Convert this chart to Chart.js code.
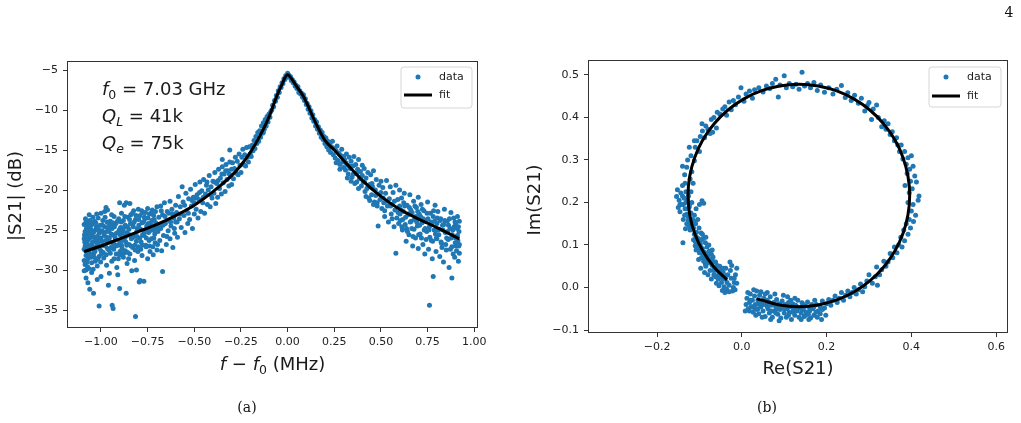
<!DOCTYPE html>
<html>
<head>
<meta charset="utf-8">
<script src="https://cdn.jsdelivr.net/npm/chart.js@4.4.1/dist/chart.umd.min.js"></script>
<style>
  body { margin: 0; background: #fff; width: 1021px; height: 423px; overflow: hidden; position: relative; }
  canvas { position: absolute; top: 0; }
  .cap { position: absolute; font-family: "DejaVu Serif", serif; font-size: 14px; color: #111; transform: translateX(-50%); }
</style>
</head>
<body>
<canvas id="chartA" width="500" height="423" style="left:0"></canvas>
<canvas id="chartB" width="511" height="423" style="left:510px"></canvas>
<div class="cap" style="left:247px; top:399px">(a)</div>
<div class="cap" style="left:767px; top:399px">(b)</div>
<div class="cap" style="left:1009px; top:4px">4</div>
<script>
// panel (a): |S21| vs detuning, MHz / dB
const aTicksX = [-1.0, -0.75, -0.5, -0.25, 0, 0.25, 0.5, 0.75, 1.0];
const aTicksY = [-35, -30, -25, -20, -15, -10, -5];

const aFitX = [-1.09,-1.0,-0.9,-0.8,-0.7,-0.6,-0.5,-0.4,-0.3,-0.25,-0.2,-0.15,-0.1,-0.07,-0.05,-0.03,-0.015,0,
  0.015,0.03,0.05,0.085,0.1,0.15,0.2,0.25,0.3,0.4,0.5,0.6,0.7,0.8,0.92];
const aFitY = [-27.7,-27.0,-26.1,-25.2,-24.3,-23.2,-21.9,-20.2,-18.2,-16.9,-15.3,-13.3,-10.9,-9.0,-7.8,-6.8,-6.0,-5.6,
  -5.9,-6.4,-7.1,-8.3,-9.0,-11.6,-13.8,-15.0,-16.3,-18.8,-20.8,-22.4,-23.6,-24.7,-26.1];

const aData = [
  [-1.09,-24.3],[-1.09,-26.1],[-1.09,-27.4],[-1.09,-28.8],[-1.09,-30.1],[-1.085,-25.2],[-1.085,-27.0],[-1.085,-29.3],[-1.085,-25.8],
  [-1.08,-24.0],[-1.08,-26.6],[-1.08,-28.2],[-1.08,-30.0],[-1.08,-31.0],[-1.075,-25.5],[-1.075,-27.8],[-1.075,-29.0],
  [-1.07,-24.6],[-1.07,-26.3],[-1.07,-28.6],[-1.07,-31.6],[-1.065,-25.0],[-1.065,-27.2],[-1.065,-29.8],
  [-1.06,-23.8],[-1.06,-26.0],[-1.06,-27.9],[-1.06,-32.4],[-1.055,-24.9],[-1.055,-28.4],[-1.05,-25.7],[-1.05,-27.0],[-1.05,-29.1],[-1.05,-30.3],
  [-1.045,-24.2],[-1.045,-26.5],[-1.04,-25.3],[-1.04,-28.0],[-1.04,-32.9],[-1.035,-23.9],[-1.035,-27.5],[-1.03,-26.2],[-1.03,-28.9],[-1.03,-25.0],
  [-1.025,-24.6],[-1.025,-27.1],[-1.02,-25.8],[-1.02,-29.5],[-1.02,-31.2],[-1.015,-23.5],[-1.015,-26.8],[-1.01,-25.4],[-1.01,-28.3],[-1.01,-34.5],
  [-1.005,-24.4],[-1.0,-26.0],[-1.0,-27.6],[-1.0,-30.8],[-1.0,-22.9],
  [-0.995,-25.1],[-0.99,-23.8],[-0.99,-26.9],[-0.985,-28.5],[-0.98,-24.6],[-0.98,-22.7],[-0.975,-26.3],[-0.97,-25.2],[-0.97,-29.4],[-0.965,-22.5],
  [-0.965,-27.3],[-0.96,-31.9],[-0.96,-24.1],[-0.955,-26.0],[-0.955,-30.4],[-0.95,-23.9],[-0.95,-27.9],[-0.945,-25.5],[-0.94,-34.4],[-0.94,-24.8],
  [-0.935,-26.7],[-0.935,-34.8],[-0.93,-23.3],[-0.93,-28.6],[-0.925,-25.9],[-0.92,-24.2],[-0.92,-27.0],[-0.915,-29.7],[-0.91,-25.3],[-0.91,-30.6],
  [-0.905,-23.6],[-0.9,-26.4],[-0.9,-21.6],[-0.9,-32.3],[-0.9,-28.1],
  [-0.895,-24.7],[-0.89,-22.9],[-0.89,-26.9],[-0.885,-25.4],[-0.88,-28.4],[-0.88,-23.8],[-0.875,-21.9],[-0.875,-26.1],[-0.87,-24.4],[-0.87,-27.6],
  [-0.865,-32.9],[-0.865,-21.6],[-0.86,-25.3],[-0.86,-29.2],[-0.855,-23.4],[-0.85,-26.8],[-0.85,-24.9],[-0.845,-21.7],[-0.845,-28.0],[-0.84,-23.1],
  [-0.84,-25.8],[-0.835,-30.1],[-0.83,-24.3],[-0.83,-27.2],[-0.825,-22.6],[-0.82,-25.6],[-0.82,-28.8],[-0.815,-35.8],[-0.815,-23.7],[-0.81,-26.4],
  [-0.81,-30.0],[-0.805,-24.8],[-0.8,-22.4],[-0.8,-27.1],
  [-0.795,-31.5],[-0.795,-25.0],[-0.79,-23.2],[-0.79,-31.3],[-0.785,-26.5],[-0.78,-24.1],[-0.78,-28.2],[-0.775,-22.8],[-0.77,-25.7],[-0.77,-31.4],
  [-0.765,-23.6],[-0.76,-26.9],[-0.755,-24.5],[-0.75,-22.3],[-0.75,-28.6],[-0.745,-25.3],[-0.74,-23.0],[-0.74,-27.0],[-0.735,-24.2],[-0.73,-26.1],
  [-0.725,-22.5],[-0.72,-25.0],[-0.72,-28.1],[-0.715,-23.7],[-0.71,-26.6],[-0.705,-24.6],[-0.7,-22.1],[-0.7,-27.5],
  [-0.695,-25.2],[-0.69,-23.4],[-0.685,-26.3],[-0.68,-22.0],[-0.68,-24.8],[-0.675,-27.6],[-0.67,-30.2],[-0.67,-23.1],[-0.665,-25.7],[-0.66,-21.6],
  [-0.655,-24.2],[-0.65,-26.8],[-0.645,-22.7],[-0.64,-25.1],[-0.635,-23.8],[-0.63,-21.4],[-0.63,-26.1],[-0.625,-24.5],[-0.62,-22.4],[-0.615,-27.2],
  [-0.61,-23.5],[-0.605,-25.4],[-0.6,-21.9],[-0.6,-24.0],
  [-1.088,-25.6],[-1.082,-27.6],[-1.078,-24.8],[-1.072,-29.6],[-1.068,-26.9],[-1.062,-25.4],[-1.058,-28.1],[-1.052,-24.4],[-1.048,-26.8],
  [-1.042,-29.9],[-1.038,-25.9],[-1.032,-27.7],[-1.028,-24.1],[-1.022,-26.6],[-1.018,-28.6],[-1.012,-25.0],[-1.008,-27.3],[-1.002,-29.0],
  [-0.996,-26.4],[-0.992,-24.4],[-0.988,-27.8],[-0.982,-25.7],[-0.978,-23.4],[-0.972,-28.1],[-0.968,-25.9],[-0.962,-24.7],[-0.958,-27.5],
  [-0.952,-26.5],[-0.948,-24.3],[-0.942,-28.9],[-0.938,-25.6],[-0.932,-27.4],[-0.928,-24.6],[-0.922,-26.2],[-0.918,-28.0],[-0.912,-23.9],
  [-0.908,-26.9],[-0.902,-25.0],[-0.898,-27.7],[-0.892,-24.0],[-0.888,-26.3],[-0.882,-25.1],[-0.878,-27.9],[-0.872,-23.3],[-0.868,-25.8],
  [-0.862,-26.9],[-0.858,-24.6],[-0.852,-28.6],[-0.848,-25.6],[-0.842,-24.2],[-0.838,-27.0],[-0.832,-22.9],[-0.828,-25.9],[-0.822,-24.0],
  [-0.818,-26.9],[-0.812,-23.2],[-0.808,-25.2],[-0.802,-27.7],[-0.798,-23.7],[-0.792,-26.0],[-0.788,-24.9],[-0.782,-22.6],[-0.778,-26.9],
  [-0.772,-24.0],[-0.768,-25.3],[-0.762,-22.8],[-0.758,-27.1],[-0.752,-24.9],[-0.748,-23.5],[-0.742,-26.3],[-0.738,-25.1],[-0.732,-22.9],
  [-0.728,-24.6],[-0.722,-27.1],[-0.718,-23.2],[-0.712,-25.5],[-0.708,-22.7],[-0.702,-24.9],
  [-1.087,-26.5],[-1.077,-26.0],[-1.067,-24.3],[-1.057,-27.0],[-1.047,-25.3],[-1.037,-28.4],[-1.027,-26.0],[-1.017,-24.7],[-1.007,-26.3],
  [-0.997,-28.0],[-0.987,-25.3],[-0.977,-27.0],[-0.967,-24.0],[-0.957,-25.2],[-0.947,-27.2],[-0.937,-24.1],[-0.927,-26.8],[-0.917,-25.4],
  [-0.907,-28.6],[-0.897,-25.6],[-0.887,-27.3],[-0.877,-24.7],[-0.867,-26.5],[-0.857,-27.8],[-0.847,-23.7],[-0.837,-26.1],[-0.827,-24.6],
  [-0.817,-27.5],[-0.807,-25.8],[-0.797,-24.4],[-0.787,-27.4],[-0.777,-25.6],[-0.767,-23.4],[-0.757,-26.0],[-0.747,-24.2],[-0.737,-27.7],
  [-0.727,-23.8],[-0.717,-26.0],[-0.707,-24.1],[-0.697,-26.8],[-0.687,-24.5],[-0.677,-22.6],[-0.667,-24.4],[-0.657,-23.3],[-0.647,-25.8],
  [-0.637,-22.9],[-0.627,-24.0],[-0.617,-23.0],[-0.607,-24.8],[-1.083,-23.6],[-1.063,-23.1],[-1.043,-23.4],[-1.023,-23.0],[-0.973,-22.2],
  [-0.943,-23.1],
  [-0.595,-22.8],[-0.59,-25.9],[-0.585,-20.8],[-0.58,-23.6],[-0.575,-22.1],[-0.57,-24.7],[-0.565,-19.6],[-0.56,-21.5],[-0.555,-23.2],[-0.55,-25.3],
  [-0.545,-20.4],[-0.54,-22.6],[-0.535,-24.2],[-0.53,-21.1],[-0.525,-23.7],[-0.52,-19.9],[-0.515,-22.0],[-0.51,-24.8],[-0.505,-20.9],[-0.5,-23.0],[-0.5,-21.6],
  [-0.592,-24.0],[-0.572,-23.0],[-0.552,-21.9],[-0.532,-22.9],[-0.512,-21.3],[-0.492,-21.0],[-0.472,-20.3],[-0.452,-20.9],[-0.432,-19.0],
  [-0.412,-20.6],[-0.392,-19.0],[-0.372,-18.8],[-0.352,-18.0],[-0.332,-17.6],[-0.312,-18.0],
  [-0.495,-19.3],[-0.49,-22.4],[-0.485,-20.6],[-0.48,-23.5],[-0.475,-21.2],[-0.47,-19.0],[-0.465,-22.7],[-0.46,-20.1],[-0.455,-21.6],[-0.45,-18.7],
  [-0.445,-22.9],[-0.44,-20.5],[-0.435,-19.4],[-0.43,-21.8],[-0.425,-20.0],[-0.42,-18.2],[-0.415,-22.1],[-0.41,-19.6],[-0.405,-21.0],[-0.4,-18.9],
  [-0.395,-20.4],[-0.39,-17.8],[-0.385,-21.7],[-0.38,-19.2],[-0.375,-20.9],[-0.37,-17.4],[-0.365,-19.8],[-0.36,-18.5],[-0.355,-20.5],[-0.35,-17.1],
  [-0.345,-19.1],[-0.34,-18.0],[-0.335,-20.2],[-0.33,-16.8],[-0.325,-18.7],[-0.32,-17.6],[-0.315,-19.5],[-0.31,-16.5],[-0.305,-18.3],[-0.3,-17.4],
  [-0.3,-19.3],[-0.31,-15.0],[-0.35,-16.2],
  [-0.295,-16.6],[-0.29,-18.6],[-0.285,-17.3],[-0.28,-15.9],[-0.275,-17.9],[-0.27,-16.4],[-0.265,-18.1],[-0.26,-15.5],[-0.255,-16.9],[-0.25,-17.8],
  [-0.245,-15.9],[-0.24,-14.9],[-0.235,-16.8],[-0.23,-15.6],[-0.225,-17.0],[-0.22,-14.7],[-0.215,-15.9],[-0.21,-16.5],[-0.205,-14.6],[-0.2,-15.5],
  [-0.195,-15.8],[-0.19,-14.4],[-0.185,-15.1],[-0.18,-13.8],[-0.175,-14.8],[-0.17,-13.3],[-0.165,-14.2],[-0.16,-12.8],[-0.155,-13.9],[-0.15,-12.6],
  [-0.145,-13.4],[-0.14,-12.0],[-0.135,-12.9],[-0.13,-11.6],[-0.125,-12.4],[-0.12,-11.2],[-0.115,-12.0],[-0.11,-10.8],[-0.105,-11.5],[-0.1,-10.5],
  [-0.13,-12.8],
  [-0.095,-10.9],[-0.09,-10.2],[-0.085,-10.0],[-0.08,-9.4],[-0.075,-9.6],[-0.07,-8.8],[-0.065,-8.9],[-0.06,-8.2],[-0.055,-8.4],[-0.05,-7.6],
  [-0.045,-7.8],[-0.04,-7.1],[-0.035,-7.2],[-0.03,-6.6],[-0.025,-6.7],[-0.02,-6.1],[-0.015,-6.2],[-0.01,-5.7],[-0.005,-5.9],[0.0,-5.4],
  [0.005,-5.6],[0.01,-5.9],[0.015,-5.8],[0.02,-6.3],[0.025,-6.2],[0.03,-6.6],[0.035,-6.5],[0.04,-7.0],[0.045,-6.9],[0.05,-7.3],
  [0.055,-7.1],[0.06,-7.8],[0.065,-7.6],[0.07,-8.0],[0.075,-7.9],[0.08,-8.4],[0.085,-8.1],[0.09,-8.8],[0.095,-8.6],[0.1,-9.3],
  [0.105,-9.2],[0.11,-9.9],[0.115,-9.6],[0.12,-10.4],[0.125,-10.1],[0.13,-11.0],[0.135,-10.6],[0.14,-11.4],[0.145,-11.2],[0.15,-12.0],
  [0.155,-11.5],[0.16,-12.4],[0.165,-12.1],[0.17,-12.9],[0.175,-12.5],[0.18,-13.4],[0.185,-12.8],[0.19,-13.7],[0.195,-13.3],[0.2,-14.2],
  [0.205,-13.5],[0.21,-14.6],[0.215,-13.9],[0.22,-15.0],[0.225,-14.2],[0.23,-15.3],[0.235,-14.6],[0.24,-13.9],[0.245,-15.6],[0.25,-14.8],
  [0.255,-16.0],[0.26,-15.1],[0.265,-14.5],[0.27,-16.3],[0.275,-15.4],[0.28,-16.8],[0.285,-15.7],[0.29,-14.9],[0.295,-16.5],[0.3,-15.8],[0.3,-17.2],
  [0.305,-16.2],[0.31,-17.5],[0.315,-15.5],[0.32,-16.9],[0.325,-18.0],[0.33,-15.9],[0.335,-17.3],[0.34,-16.4],[0.345,-18.4],[0.35,-17.0],
  [0.355,-15.8],[0.36,-17.9],[0.365,-16.8],[0.37,-19.0],[0.375,-17.4],[0.38,-16.2],[0.385,-18.6],[0.39,-17.7],[0.395,-19.5],[0.4,-18.2],[0.4,-16.9],
  [0.405,-19.0],[0.41,-17.3],[0.415,-20.2],[0.42,-18.5],[0.425,-19.8],[0.43,-17.8],[0.435,-21.0],[0.44,-19.3],[0.445,-18.1],[0.45,-20.6],
  [0.455,-19.6],[0.46,-17.6],[0.465,-21.5],[0.47,-20.0],[0.475,-18.7],[0.48,-22.0],[0.485,-24.5],[0.49,-19.4],[0.495,-21.2],[0.5,-20.3],[0.5,-18.9],
  [0.312,-16.6],[0.332,-17.0],[0.352,-18.0],[0.372,-17.9],[0.392,-18.4],[0.412,-19.0],[0.432,-19.5],[0.452,-19.2],[0.472,-20.7],[0.492,-20.5],
  [0.512,-21.0],[0.532,-21.4],[0.552,-22.0],[0.572,-21.4],[0.592,-22.8],
  [0.32,-18.5],[0.36,-19.2],[0.42,-20.8],[0.46,-21.8],[0.38,-19.8],[0.44,-21.3],[0.34,-18.9],[0.48,-21.6],[0.52,-22.6],[0.56,-23.6],
  [0.28,-17.4],[0.26,-16.6],
  [0.505,-22.3],[0.51,-19.7],[0.515,-21.6],[0.52,-23.3],[0.525,-20.4],[0.53,-18.8],[0.535,-22.0],[0.54,-24.0],[0.545,-21.1],[0.55,-19.6],
  [0.555,-23.0],[0.56,-21.8],[0.565,-20.3],[0.57,-24.6],[0.575,-22.5],[0.58,-27.9],[0.58,-19.4],[0.585,-23.5],[0.59,-21.2],[0.595,-24.2],[0.6,-22.0],[0.6,-20.0],
  [0.605,-23.8],[0.61,-21.0],[0.615,-25.0],[0.62,-22.7],[0.625,-20.4],[0.63,-24.3],[0.635,-26.4],[0.64,-21.9],[0.645,-23.1],[0.65,-25.6],
  [0.655,-20.6],[0.66,-22.5],[0.665,-24.8],[0.67,-27.0],[0.675,-21.4],[0.68,-23.7],[0.685,-26.0],[0.69,-22.2],[0.695,-24.5],[0.7,-20.9],[0.7,-27.3],
  [0.705,-23.0],[0.71,-25.5],[0.715,-21.8],[0.72,-24.1],[0.725,-26.8],[0.73,-22.6],[0.735,-28.0],[0.74,-23.9],[0.745,-25.2],[0.75,-21.5],
  [0.755,-27.4],[0.76,-34.4],[0.76,-24.6],[0.765,-22.9],[0.77,-26.3],[0.775,-28.6],[0.78,-30.8],[0.78,-23.3],[0.785,-25.0],[0.79,-21.9],
  [0.795,-27.7],[0.8,-24.2],[0.8,-26.1],
  [0.805,-22.7],[0.81,-25.6],[0.815,-28.3],[0.82,-23.6],[0.825,-26.7],[0.83,-24.4],[0.835,-29.0],[0.84,-22.4],[0.845,-25.3],[0.85,-27.5],
  [0.855,-23.9],[0.86,-26.2],[0.865,-29.7],[0.87,-24.8],[0.875,-22.8],[0.88,-31.0],[0.88,-27.1],[0.885,-25.0],[0.89,-23.5],[0.895,-28.4],
  [0.9,-26.0],[0.9,-24.2],[0.905,-27.6],[0.91,-23.3],[0.91,-25.7],[0.915,-28.9],[0.915,-24.6],[0.92,-26.8],[0.92,-23.9],[0.92,-27.9],
  [0.602,-23.0],[0.612,-24.6],[0.622,-21.6],[0.632,-23.4],[0.642,-25.2],[0.652,-22.2],[0.662,-23.9],[0.672,-25.8],[0.682,-22.0],[0.692,-24.0],
  [0.702,-25.6],[0.712,-23.3],[0.722,-22.4],[0.732,-25.0],[0.742,-26.2],[0.752,-23.6],[0.762,-25.9],[0.772,-24.3],[0.782,-22.6],[0.792,-25.5],
  [0.802,-23.5],[0.812,-24.9],[0.822,-26.5],[0.832,-25.0],[0.842,-23.8],[0.852,-26.0],[0.862,-24.4],[0.872,-27.4],[0.882,-25.6],[0.892,-24.6],
  [0.902,-27.0],[0.912,-26.3],[0.918,-25.2],[0.908,-24.8],[0.898,-26.6],
  [0.607,-22.5],[0.617,-23.7],[0.627,-22.0],[0.637,-24.8],[0.647,-23.0],[0.657,-24.0],[0.667,-22.8],[0.677,-24.9],[0.687,-23.3],[0.697,-22.7],
  [0.707,-24.4],[0.717,-26.0],[0.727,-23.6],[0.737,-24.8],[0.747,-22.9],[0.757,-25.0],[0.767,-24.0],[0.777,-26.4],[0.787,-23.9],[0.797,-26.0],
  [0.807,-25.0],[0.817,-23.8],[0.827,-27.2],[0.837,-24.3],[0.847,-26.8],[0.857,-25.2],[0.867,-23.6],[0.877,-26.0],[0.887,-28.0],[0.897,-24.0],
  [0.907,-25.8],[0.917,-27.0]
];

// panel (b): Im vs Re of S21
const bTicksX = [-0.2, 0, 0.2, 0.4, 0.6];
const bTicksY = [-0.1, 0, 0.1, 0.2, 0.3, 0.4, 0.5];

const bFitX = [-0.035,-0.0658,-0.0920,-0.1112,-0.1230,-0.1270,-0.1230,-0.1112,-0.0920,-0.0658,-0.0336,0.0038,0.0451,0.0891,
  0.1345,0.1799,0.2239,0.2653,0.3026,0.3348,0.3610,0.3802,0.3920,0.3960,0.3920,0.3802,0.3610,0.3348,0.3026,0.2653,0.2239,
  0.1799,0.1345,0.0891,0.0451,0.035];
const bFitY = [0.018,0.0484,0.0858,0.1271,0.1711,0.2165,0.2619,0.3059,0.3473,0.3846,0.4168,0.4430,0.4622,0.4740,
  0.4780,0.4740,0.4622,0.4430,0.4168,0.3846,0.3473,0.3059,0.2619,0.2165,0.1711,0.1271,0.0858,0.0484,0.0162,-0.0100,-0.0292,
  -0.0410,-0.0450,-0.0410,-0.0292,-0.026];

const bData = [
  [-0.012,0.045],[-0.015,0.030],[-0.018,0.012],[-0.020,0.000],[-0.022,-0.008],[-0.025,0.022],[-0.027,0.040],[-0.030,0.005],[-0.030,-0.010],
  [-0.033,0.030],[-0.035,0.012],[-0.036,-0.004],[-0.038,0.045],[-0.040,0.020],[-0.042,0.002],[-0.044,0.035],[-0.046,-0.007],[-0.048,0.012],
  [-0.050,0.028],[-0.052,0.050],[-0.054,0.004],[-0.056,0.020],[-0.058,0.040],[-0.060,0.010],[-0.018,0.022],[-0.024,0.052],[-0.028,0.060],
  [-0.012,0.010],[-0.016,-0.005],[-0.040,-0.012],
  [-0.046,0.022],[-0.055,0.030],[-0.050,0.040],[-0.062,0.025],[-0.043,0.045],[-0.058,0.052],[-0.066,0.040],[-0.036,0.028],
  [-0.076,0.058],[-0.084,0.066],[-0.080,0.075],[-0.072,0.078],[-0.090,0.072],[-0.086,0.055],[-0.068,0.062],[-0.094,0.080],
  [-0.098,0.098],[-0.106,0.105],[-0.102,0.112],[-0.110,0.098],[-0.095,0.112],[-0.114,0.112],[-0.099,0.090],[-0.108,0.088],
  [-0.114,0.150],[-0.122,0.150],[-0.118,0.160],[-0.126,0.165],[-0.130,0.150],[-0.112,0.155],[-0.135,0.170],[-0.121,0.140],
  [-0.124,0.195],[-0.132,0.200],[-0.128,0.185],[-0.138,0.195],[-0.126,0.215],[-0.140,0.215],[-0.146,0.195],[-0.134,0.245],
  [-0.062,0.060],[-0.065,0.045],[-0.066,0.030],[-0.068,0.072],[-0.070,0.052],[-0.072,0.020],[-0.074,0.066],[-0.075,0.040],[-0.077,0.085],
  [-0.079,0.058],[-0.080,0.030],[-0.082,0.095],[-0.083,0.074],[-0.085,0.050],[-0.086,0.105],[-0.088,0.083],[-0.090,0.062],[-0.091,0.115],
  [-0.093,0.092],[-0.095,0.070],[-0.096,0.128],[-0.098,0.104],[-0.100,0.082],[-0.101,0.140],[-0.103,0.115],[-0.105,0.095],[-0.107,0.130],
  [-0.109,0.150],[-0.110,0.108],[-0.112,0.125],[-0.097,0.045],[-0.088,0.035],[-0.078,0.100],[-0.070,0.088],[-0.102,0.066],[-0.093,0.125],
  [-0.085,0.118],
  [-0.114,0.140],[-0.116,0.160],[-0.118,0.148],[-0.120,0.175],[-0.122,0.135],[-0.124,0.190],[-0.126,0.158],[-0.128,0.205],[-0.130,0.172],
  [-0.132,0.225],[-0.134,0.185],[-0.136,0.210],[-0.138,0.160],[-0.139,0.105],[-0.140,0.240],[-0.142,0.195],[-0.144,0.222],[-0.146,0.178],
  [-0.148,0.205],[-0.150,0.188],[-0.152,0.230],[-0.154,0.214],[-0.120,0.225],[-0.118,0.200],[-0.112,0.170],[-0.108,0.185],[-0.104,0.160],
  [-0.100,0.195],[-0.094,0.204],[-0.090,0.198],[-0.115,0.245],[-0.122,0.255],[-0.135,0.265],[-0.130,0.283],[-0.140,0.285],[-0.118,0.272],
  [-0.125,0.145],[-0.133,0.138],[-0.108,0.120],
  [-0.128,0.300],[-0.120,0.310],[-0.112,0.298],[-0.110,0.330],[-0.106,0.345],[-0.100,0.320],[-0.098,0.355],[-0.093,0.368],[-0.088,0.352],
  [-0.085,0.380],[-0.080,0.372],[-0.075,0.362],[-0.072,0.395],[-0.066,0.400],[-0.060,0.375],[-0.058,0.412],[-0.052,0.408],[-0.045,0.420],
  [-0.040,0.425],[-0.036,0.405],[-0.030,0.436],[-0.025,0.418],[-0.020,0.440],[-0.015,0.430],[-0.112,0.345],[-0.124,0.330],[-0.094,0.385],
  [-0.069,0.365],
  [-0.008,0.448],[-0.002,0.470],[0.005,0.438],[0.010,0.455],[0.018,0.462],[0.025,0.445],[0.030,0.465],[0.040,0.470],[0.050,0.460],
  [0.058,0.474],[0.066,0.468],[0.072,0.480],[0.080,0.490],[0.086,0.448],[0.090,0.476],[0.100,0.498],[0.105,0.470],[0.112,0.480],
  [0.120,0.472],[0.128,0.478],[0.135,0.466],[0.142,0.506],[0.148,0.474],[0.155,0.480],[0.162,0.470],[0.170,0.482],[0.178,0.463],
  [0.186,0.476],[0.195,0.459],[0.205,0.470],[0.215,0.455],[0.224,0.466],[0.235,0.475],[0.244,0.447],[0.250,0.458],[0.258,0.440],
  [0.266,0.452],[0.275,0.433],[0.282,0.445],[0.290,0.415],[0.296,0.428],[0.300,0.435],
  [0.306,0.395],[0.310,0.420],[0.318,0.429],[0.322,0.400],[0.330,0.378],[0.336,0.392],[0.340,0.372],[0.345,0.385],[0.350,0.360],
  [0.355,0.366],[0.360,0.345],[0.365,0.352],[0.368,0.335],[0.372,0.320],[0.376,0.335],[0.380,0.302],[0.384,0.320],[0.388,0.290],
  [0.392,0.305],[0.396,0.278],[0.400,0.310],[0.404,0.285],[0.408,0.262],[0.398,0.250],[0.390,0.268],[0.402,0.232],[0.412,0.248],
  [0.418,0.215],[0.416,0.205],[0.395,0.223],[0.385,0.240],
  [0.404,0.195],[0.400,0.180],[0.392,0.200],[0.410,0.170],[0.405,0.155],[0.395,0.160],[0.398,0.140],[0.388,0.150],[0.392,0.125],
  [0.382,0.135],[0.384,0.110],[0.375,0.118],[0.378,0.095],[0.370,0.100],[0.366,0.082],[0.360,0.095],[0.356,0.070],[0.350,0.080],
  [0.345,0.060],[0.340,0.050],[0.335,0.062],[0.330,0.042],[0.325,0.030],[0.318,0.048],[0.315,0.025],[0.308,0.010],[0.320,0.005],
  [0.300,0.030],[0.295,0.015],
  [0.290,0.002],[0.285,-0.010],[0.280,0.008],[0.275,-0.005],[0.270,-0.015],[0.265,0.000],[0.260,-0.012],[0.255,-0.022],[0.250,-0.008],
  [0.245,-0.018],[0.240,-0.030],[0.235,-0.012],[0.230,-0.025],[0.225,-0.035],[0.220,-0.020],[0.215,-0.030],[0.210,-0.042],[0.205,-0.028],
  [0.200,-0.038],[0.198,-0.065],[0.195,-0.048],[0.190,-0.032],[0.185,-0.045],[0.180,-0.055],[0.176,-0.040],[0.172,-0.030],[0.168,-0.050],
  [0.010,-0.040],[0.012,-0.025],[0.015,-0.050],[0.018,-0.035],[0.020,-0.015],[0.022,-0.045],[0.025,-0.030],[0.027,-0.058],[0.030,-0.020],
  [0.032,-0.040],[0.035,-0.008],[0.036,-0.052],[0.038,-0.030],[0.040,-0.062],[0.042,-0.018],[0.045,-0.045],[0.047,-0.035],[0.050,-0.055],
  [0.052,-0.025],[0.055,-0.068],[0.057,-0.040],[0.060,-0.030],[0.062,-0.050],[0.065,-0.060],[0.067,-0.022],[0.070,-0.042],[0.072,-0.070],
  [0.075,-0.035],[0.077,-0.055],[0.080,-0.045],[0.082,-0.028],[0.085,-0.063],[0.087,-0.038],[0.090,-0.052],[0.092,-0.072],[0.095,-0.032],
  [0.097,-0.046],[0.100,-0.060],[0.102,-0.040],[0.105,-0.070],[0.107,-0.050],[0.110,-0.035],[0.112,-0.058],[0.115,-0.045],[0.117,-0.075],
  [0.120,-0.038],[0.122,-0.052],[0.125,-0.065],[0.127,-0.042],[0.130,-0.055],[0.132,-0.030],[0.135,-0.070],[0.137,-0.048],[0.140,-0.060],
  [0.142,-0.036],[0.145,-0.052],[0.147,-0.068],[0.150,-0.044],[0.152,-0.058],[0.155,-0.034],[0.157,-0.063],[0.160,-0.048],[0.162,-0.072],
  [0.165,-0.040],
  [0.028,-0.005],[0.045,-0.010],[0.060,-0.012],[0.018,-0.055],[0.033,-0.065],[0.048,-0.070],[0.068,-0.075],[0.088,-0.078],[0.108,-0.022],
  [0.125,-0.025],[0.078,-0.015],[0.098,-0.018],[0.140,-0.075],[0.158,-0.075],[0.170,-0.065],[0.178,-0.070],[0.185,-0.062],[0.188,-0.075],
  [0.008,-0.055],[0.014,-0.012],
  [0.020,-0.030],[0.030,-0.048],[0.040,-0.038],[0.050,-0.040],[0.060,-0.045],[0.070,-0.055],[0.080,-0.060],[0.090,-0.040],[0.100,-0.050],
  [0.110,-0.065],[0.120,-0.058],[0.130,-0.045],[0.140,-0.050],[0.150,-0.065],[0.160,-0.055],[0.170,-0.045],[0.055,-0.015],[0.065,-0.035],
  [0.085,-0.050],[0.115,-0.030],[0.145,-0.040],[0.175,-0.058],[0.190,-0.052],[0.038,-0.050],[0.025,-0.045]
];

const blue = "#1f77b4";

function fmt(v, dec) {
  return v.toFixed(dec).replace("-", "\u2212");
}

function axis(min, max, tickVals, dec, size, isX) {
  return {
    type: "linear",
    min: min,
    max: max,
    afterBuildTicks: s => { s.ticks = tickVals.map(v => ({ value: v })); },
    afterFit: s => { if (isX) s.height = size; else s.width = size; },
    grid: { drawOnChartArea: false, drawTicks: true, tickLength: 4, color: "#333" },
    border: { display: false },
    ticks: {
      font: { family: "DejaVu Sans", size: 11 },
      color: "#222",
      padding: isX ? 4 : 5,
      maxRotation: 0,
      autoSkip: false,
      callback: v => fmt(v, dec)
    }
  };
}

// draw a run of text pieces one after another
function runs(ctx, x, y, parts) {
  parts.forEach(p => {
    const sz = p.sub ? 12.5 : 18;
    ctx.font = (p.it ? "italic " : "") + sz + "px 'DejaVu Sans'";
    ctx.fillText(p.t, x, y + (p.sub ? 4 : 0));
    x += ctx.measureText(p.t).width;
  });
  return x;
}

function runsWidth(ctx, parts) {
  let w = 0;
  parts.forEach(p => {
    ctx.font = (p.it ? "italic " : "") + (p.sub ? 12.5 : 18) + "px 'DejaVu Sans'";
    w += ctx.measureText(p.t).width;
  });
  return w;
}

function legend(ctx, box, lineY) {
  ctx.save();
  ctx.beginPath();
  ctx.roundRect(box[0], box[1], box[2], box[3], 3);
  ctx.fillStyle = "rgba(255,255,255,0.8)";
  ctx.fill();
  ctx.strokeStyle = "#d6d6d6";
  ctx.lineWidth = 1;
  ctx.stroke();
  ctx.fillStyle = blue;
  ctx.beginPath();
  ctx.arc(box[0] + 17, lineY[0], 2.5, 0, Math.PI * 2);
  ctx.fill();
  ctx.strokeStyle = "#000";
  ctx.lineWidth = 3;
  ctx.beginPath();
  ctx.moveTo(box[0] + 3, lineY[1]);
  ctx.lineTo(box[0] + 31, lineY[1]);
  ctx.stroke();
  ctx.fillStyle = "#222";
  ctx.font = "11px 'DejaVu Sans'";
  ctx.textBaseline = "middle";
  ctx.fillText("data", box[0] + 38, lineY[0]);
  ctx.fillText("fit", box[0] + 38, lineY[1]);
  ctx.restore();
}

function frame(ctx, a) {
  ctx.save();
  ctx.strokeStyle = "#333";
  ctx.lineWidth = 1;
  ctx.strokeRect(Math.round(a.left) + 0.5, Math.round(a.top) + 0.5, Math.round(a.right - a.left) - 1, Math.round(a.bottom - a.top) - 1);
  ctx.restore();
}

const decorA = {
  id: "decorA",
  afterDraw(chart) {
    const ctx = chart.ctx;
    const a = chart.chartArea;
    frame(ctx, a);
    legend(ctx, [401, 67, 71, 41], [77, 95]);
    ctx.save();
    ctx.fillStyle = "#1a1a1a";
    ctx.textBaseline = "alphabetic";
    runs(ctx, 102, 95, [{ t: "f", it: true }, { t: "0", sub: true }, { t: " = 7.03 GHz" }]);
    runs(ctx, 102, 122, [{ t: "Q", it: true }, { t: "L", it: true, sub: true }, { t: " = 41k" }]);
    runs(ctx, 102, 149, [{ t: "Q", it: true }, { t: "e", it: true, sub: true }, { t: " = 75k" }]);
    const xt = [{ t: "f", it: true }, { t: " \u2212 " }, { t: "f", it: true }, { t: "0", sub: true }, { t: " (MHz)" }];
    runs(ctx, (a.left + a.right) / 2 - runsWidth(ctx, xt) / 2, 370, xt);
    ctx.font = "18px 'DejaVu Sans'";
    ctx.textAlign = "center";
    ctx.textBaseline = "middle";
    ctx.translate(16, 196);
    ctx.rotate(-Math.PI / 2);
    ctx.fillText("|S21| (dB)", 0, 0);
    ctx.restore();
  }
};

const decorB = {
  id: "decorB",
  afterDraw(chart) {
    const ctx = chart.ctx;
    const a = chart.chartArea;
    frame(ctx, a);
    legend(ctx, [419, 67, 72, 40], [77, 96]);
    ctx.save();
    ctx.fillStyle = "#1a1a1a";
    ctx.font = "18px 'DejaVu Sans'";
    ctx.textAlign = "center";
    ctx.textBaseline = "alphabetic";
    ctx.fillText("Re(S21)", (a.left + a.right) / 2, 374);
    ctx.textBaseline = "middle";
    ctx.translate(25, 200);
    ctx.rotate(-Math.PI / 2);
    ctx.fillText("Im(S21)", 0, 0);
    ctx.restore();
  }
};

function pts(arr) {
  return arr.map(p => ({ x: p[0], y: p[1] }));
}

function zipXY(xs, ys) {
  return xs.map((x, i) => ({ x: x, y: ys[i] }));
}

new Chart(document.getElementById("chartA"), {
  type: "scatter",
  data: {
    datasets: [
      { label: "fit", data: zipXY(aFitX, aFitY), showLine: true, borderColor: "#000", borderWidth: 3,
        pointRadius: 0, cubicInterpolationMode: "monotone", order: 0 },
      { label: "data", data: pts(aData), pointRadius: 2.5, backgroundColor: blue, borderWidth: 0, order: 1 }
    ]
  },
  options: {
    responsive: false,
    animation: false,
    layout: { padding: { left: 0, top: 61, right: 22, bottom: 0 } },
    plugins: { legend: { display: false }, tooltip: { enabled: false } },
    scales: {
      x: axis(-1.182, 1.02, aTicksX, 2, 95, true),
      y: axis(-37.25, -3.875, aTicksY, 0, 67, false)
    }
  },
  plugins: [decorA]
});

new Chart(document.getElementById("chartB"), {
  type: "scatter",
  data: {
    datasets: [
      { label: "fit", data: zipXY(bFitX, bFitY), showLine: true, borderColor: "#000", borderWidth: 3,
        pointRadius: 0, tension: 0.4, order: 0 },
      { label: "data", data: pts(bData), pointRadius: 2.5, backgroundColor: blue, borderWidth: 0, order: 1 }
    ]
  },
  options: {
    responsive: false,
    animation: false,
    layout: { padding: { left: 0, top: 60, right: 13, bottom: 0 } },
    plugins: { legend: { display: false }, tooltip: { enabled: false } },
    scales: {
      x: axis(-0.363, 0.628, bTicksX, 1, 90, true),
      y: axis(-0.107, 0.535, bTicksY, 1, 78, false)
    }
  },
  plugins: [decorB]
});
</script>
</body>
</html>
